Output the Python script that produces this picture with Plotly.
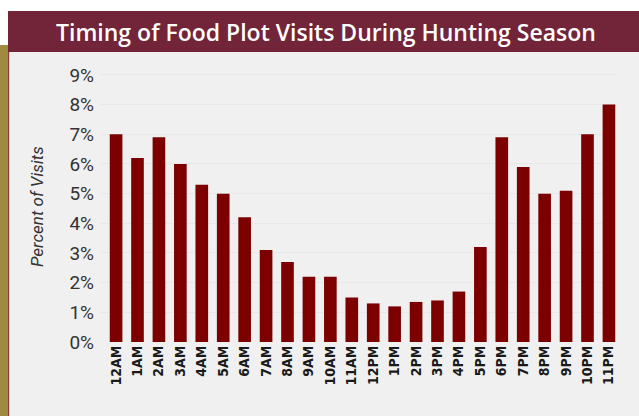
import plotly.graph_objects as go

# Hourly share of food plot visits
hours = ["12AM", "1AM", "2AM", "3AM", "4AM", "5AM", "6AM", "7AM", "8AM", "9AM",
         "10AM", "11AM", "12PM", "1PM", "2PM", "3PM", "4PM", "5PM", "6PM", "7PM",
         "8PM", "9PM", "10PM", "11PM"]
visits_pct = [7.0, 6.2, 6.9, 6.0, 5.3, 5.0, 4.2, 3.1, 2.7, 2.2,
              2.2, 1.5, 1.3, 1.2, 1.35, 1.4, 1.7, 3.2, 6.9, 5.9,
              5.0, 5.1, 7.0, 8.0]
y_ticks = [0, 1, 2, 3, 4, 5, 6, 7, 8, 9]
y_tick_text = [f"{v}%" for v in y_ticks]

W, H = 639, 416
ML, MR, MT, MB = 100, 23, 69, 74
PW, PH = W - ML - MR, H - MT - MB


def px(x):
    return (x - ML) / PW


def py(y):
    return (H - MB - y) / PH


fig = go.Figure(go.Bar(
    x=list(range(len(hours))),
    y=visits_pct,
    marker=dict(color="#7d0000", line=dict(width=0)),
    hoverinfo="skip",
))

shapes = [
    # white strip above the panel
    dict(type="rect", xref="paper", yref="paper", x0=px(0), x1=px(W), y0=py(11), y1=py(0),
         fillcolor="white", line_width=0, layer="below"),
    dict(type="rect", xref="paper", yref="paper", x0=px(0), x1=px(8), y0=py(45), y1=py(11),
         fillcolor="white", line_width=0, layer="below"),
    # gold side strip
    dict(type="rect", xref="paper", yref="paper", x0=px(0), x1=px(8), y0=py(H), y1=py(45),
         fillcolor="#a08a3f", line_width=0, layer="above"),
    dict(type="rect", xref="paper", yref="paper", x0=px(8), x1=px(9.2), y0=py(H), y1=py(45),
         fillcolor="#8a3b3b", line_width=0, layer="above"),
    # title banner
    dict(type="rect", xref="paper", yref="paper", x0=px(8), x1=px(W), y0=py(52), y1=py(11),
         fillcolor="#722439", line_width=0, layer="above"),
]

annotations = [
    dict(text="Timing of Food Plot Visits During Hunting Season", xref="paper", yref="paper",
         x=px(326), y=py(32), xanchor="center", yanchor="middle", showarrow=False,
         font=dict(family="Open Sans", size=23, color="white", weight=600)),
    dict(text="Percent of Visits", xref="paper", yref="paper",
         x=px(37), y=py(207), xanchor="center", yanchor="middle", showarrow=False,
         textangle=-90,
         font=dict(family="Roboto", size=17, color="#333333", style="italic")),
]

fig.update_layout(
    width=W, height=H,
    margin=dict(l=ML, r=MR, t=MT, b=MB, pad=0),
    paper_bgcolor="#f0f0f0",
    plot_bgcolor="#f0f0f0",
    bargap=0.41,
    showlegend=False,
    shapes=shapes,
    annotations=annotations,
    xaxis=dict(
        range=[-0.75, 23.33],
        tickmode="array",
        tickvals=list(range(len(hours))),
        ticktext=hours,
        tickangle=-90,
        tickfont=dict(family="DejaVu Sans Condensed", size=14, color="#1a1a1a", weight="bold"),
        showgrid=False, zeroline=False, showline=False, ticks="",
    ),
    yaxis=dict(
        range=[0, 9.2],
        tickmode="array",
        tickvals=y_ticks,
        ticktext=y_tick_text,
        tickfont=dict(family="Roboto", size=19, color="#333333"),
        ticklabelstandoff=5,
        showgrid=True, gridcolor="#e8e8e8", gridwidth=1,
        zeroline=False, showline=False, ticks="",
    ),
)

fig.write_html("out.html")
